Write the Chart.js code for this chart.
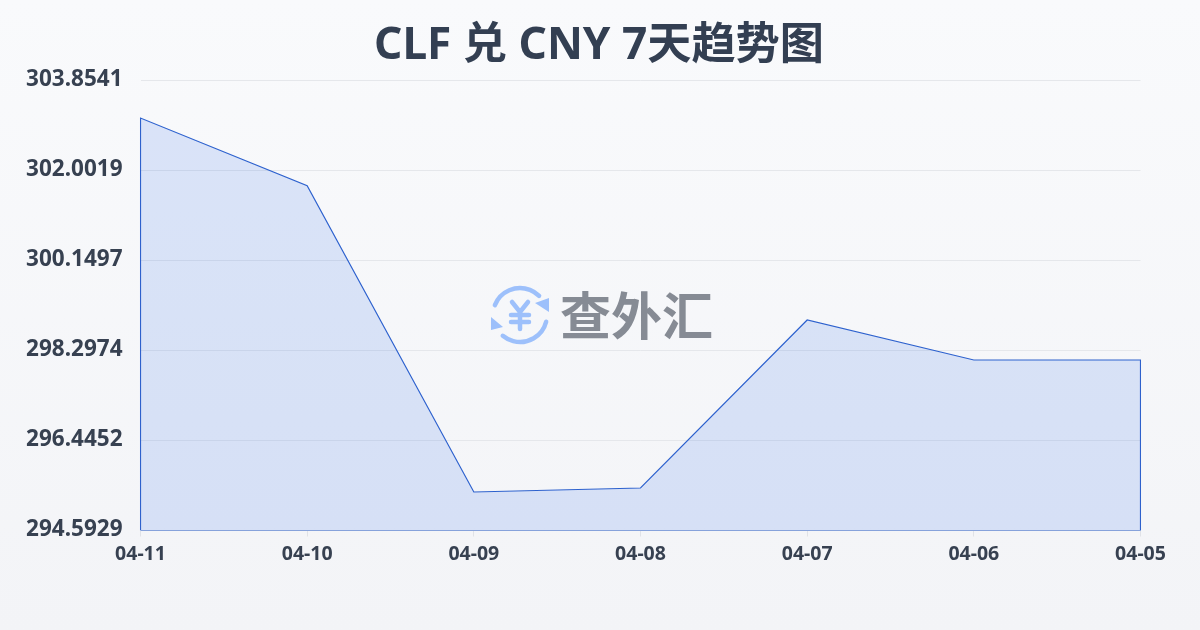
<!DOCTYPE html>
<html>
<head>
<meta charset="utf-8">
<script src="https://cdn.jsdelivr.net/npm/chart.js@4"></script>
<style>
	html, body { margin: 0; padding: 0; }
	body { width: 1200px; height: 630px; overflow: hidden; background: linear-gradient(180deg, #f9fafc 0%, #f3f4f7 100%); }
	canvas { display: block; }
</style>
</head>
<body>
<canvas id="chartArea" width="1200" height="630"></canvas>
<script>
	'use strict';

	const titleText = 'CLF 兑 CNY 7天趋势图';
	const categories = ['04-11', '04-10', '04-09', '04-08', '04-07', '04-06', '04-05'];
	const rates = [303.082, 301.69, 295.385, 295.467, 298.925, 298.102, 298.102];
	const yTicks = [294.5929, 296.4452, 298.2974, 300.1497, 302.0019, 303.8541];
	const yMin = yTicks[0];
	const yMax = yTicks[yTicks.length - 1];

	// Outline runs down to the axis on both ends, so the area gets a closed border
	const outline = [{ x: categories[0], y: yMin }]
		.concat(categories.map(function(c, i) { return { x: c, y: rates[i] }; }))
		.concat([{ x: categories[categories.length - 1], y: yMin }, { x: categories[0], y: yMin }]);

	const font = '"Noto Sans", "Noto Sans CJK SC", sans-serif';

	// Page title centred on the whole image, then the watermark in the middle of the chart
	const decorations = {
		id: 'decorations',
		afterDatasetsDraw: function(chart) {
			const ctx = chart.ctx;
			ctx.save();
			ctx.textBaseline = 'middle';
			ctx.textAlign = 'center';
			ctx.fillStyle = '#333f52';
			ctx.font = 'bold 44.2px ' + font;
			ctx.fillText(titleText, 599, 46);

			ctx.strokeStyle = '#9dc0fb';
			ctx.fillStyle = '#9dc0fb';
			ctx.lineWidth = 4.5;
			ctx.lineCap = 'round';
			ctx.lineJoin = 'round';
			ctx.beginPath();
			ctx.arc(520, 315, 27, Math.PI * 1.12, Math.PI * 1.75);
			ctx.stroke();
			ctx.beginPath();
			ctx.arc(520, 315, 27, Math.PI * 0.08, Math.PI * 0.72);
			ctx.stroke();
			ctx.beginPath();
			ctx.moveTo(549, 298);
			ctx.lineTo(549, 312);
			ctx.lineTo(535, 303);
			ctx.closePath();
			ctx.fill();
			ctx.beginPath();
			ctx.moveTo(491, 317);
			ctx.lineTo(491, 330);
			ctx.lineTo(503, 327);
			ctx.closePath();
			ctx.fill();
			// yen sign of the logo
			ctx.beginPath();
			ctx.moveTo(512, 302);
			ctx.lineTo(520, 312);
			ctx.lineTo(528, 302);
			ctx.moveTo(511, 315);
			ctx.lineTo(529, 315);
			ctx.moveTo(511, 322);
			ctx.lineTo(529, 322);
			ctx.moveTo(520, 312);
			ctx.lineTo(520, 329);
			ctx.stroke();

			ctx.fillStyle = '#868b94';
			ctx.textAlign = 'left';
			ctx.font = 'bold 51px "Noto Sans CJK SC", sans-serif';
			ctx.fillText('查外汇', 560, 316);
			ctx.restore();
		}
	};

	new Chart(document.getElementById('chartArea').getContext('2d'), {
		type: 'line',
		data: {
			labels: categories,
			datasets: [{
				data: rates,
				borderWidth: 0,
				backgroundColor: 'rgba(37, 99, 235, 0.14)',
				fill: 'start',
				tension: 0,
				pointRadius: 0
			}, {
				data: outline,
				borderColor: '#2f62cc',
				borderWidth: 1.2,
				fill: false,
				tension: 0,
				pointRadius: 0
			}]
		},
		options: {
			responsive: false,
			animation: false,
			layout: { padding: { top: 80.5, right: 59.5, bottom: 0, left: 0 } },
			plugins: {
				legend: { display: false },
				tooltip: { enabled: false },
				title: { display: false }
			},
			scales: {
				y: {
					min: yMin,
					max: yMax,
					afterBuildTicks: function(scale) {
						scale.ticks = yTicks.map(function(v) { return { value: v }; });
					},
					afterFit: function(scale) { scale.width = 140.5; },
					border: { display: false },
					grid: { color: '#e5e7eb', lineWidth: 1, drawTicks: false },
					ticks: {
						color: '#374151',
						padding: 18,
						labelOffset: -1,
						autoSkip: false,
						maxRotation: 0,
						font: { family: font, size: 22.5, weight: 'bold' },
						callback: function(v) { return v.toFixed(4); }
					}
				},
				x: {
					type: 'category',
					labels: categories,
					afterFit: function(scale) { scale.height = 99.5; },
					border: { display: false },
					grid: { drawOnChartArea: false, drawTicks: true, tickLength: 6, color: '#e0e2e7' },
					offset: false,
					ticks: {
						color: '#374151',
						padding: 6,
						autoSkip: false,
						maxRotation: 0,
						font: { family: font, size: 19.5, weight: 'bold' }
					}
				}
			}
		},
		plugins: [decorations]
	});
</script>
</body>
</html>
